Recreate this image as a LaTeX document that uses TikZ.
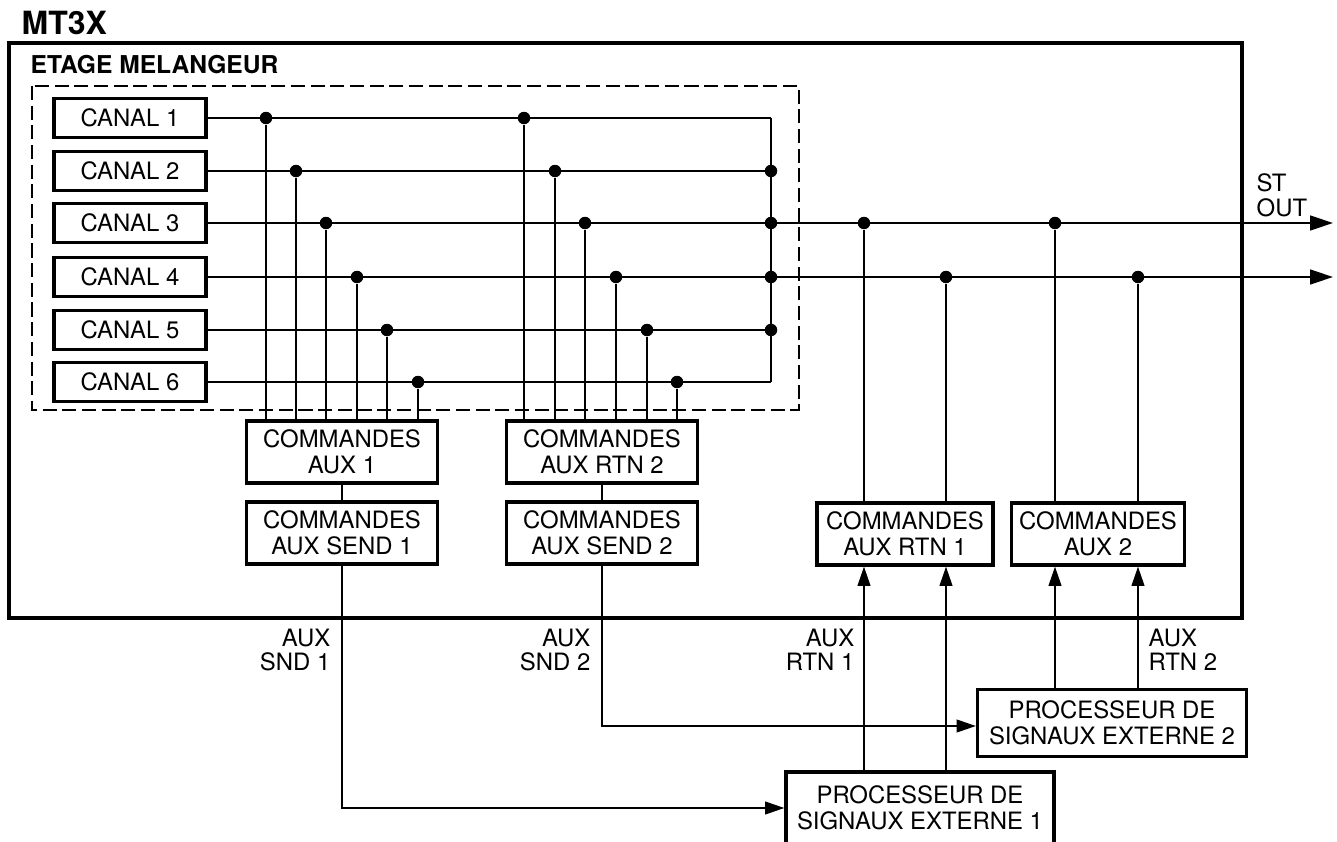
\documentclass[tikz,border=0pt]{standalone}
\usepackage{fontspec}
\setmainfont{TeX Gyre Heros}
\usetikzlibrary{arrows.meta,positioning}
\newcommand{\lbl}{\fontsize{6.8}{7.4}\selectfont}
\newcommand{\sidelbl}{\fontsize{6.8}{7.0}\selectfont}
\newcommand{\ttl}{\fontsize{9.1}{10}\selectfont\bfseries}
\newcommand{\sect}{\fontsize{7.0}{8}\selectfont\bfseries}
\tikzset{
  chanbox/.style={
    rectangle, draw, line width=0.9pt, inner sep=0pt,
    minimum width=15.2mm, minimum height=3.9mm, font=\lbl
  },
  cmdbox/.style={
    rectangle, draw, line width=0.9pt, inner sep=0pt, align=center,
    minimum width=19.1mm, minimum height=6.2mm, font=\lbl
  },
  junction/.style={circle, fill, inner sep=0pt, minimum size=1.25mm},
  wire/.style={line width=0.6pt},
  sigarrow/.style={wire, -{Triangle[length=5.5pt,width=3.6pt]}},
  outarrow/.style={wire, -{Triangle[length=6.5pt,width=4.2pt]}},
  portlabel/.style={inner sep=0pt, font=\sidelbl},
}

\begin{document}
\begin{tikzpicture}[x=0.1mm, y=-0.1mm]
  \useasboundingbox (0,0) rectangle (1337,842);

  \node[anchor=west, inner sep=0pt, font=\ttl] (mt) at (21,23) {MT3X};
  \draw[line width=1.1pt] (9,43) rectangle (1242,618);
  \node[anchor=west, inner sep=0pt, font=\sect] (etage) at (30,65) {ETAGE MELANGEUR};
  \draw[wire, dash pattern=on 4pt off 1.6pt] (32,86) rectangle (799,410);

  % control sections
  \node[cmdbox] (aux1) at (342,452) {COMMANDES\\AUX 1};
  \node[cmdbox] (snd1) at (342,533) {COMMANDES\\AUX SEND 1};
  \node[cmdbox] (rtn2) at (602,452) {COMMANDES\\AUX RTN 2};
  \node[cmdbox] (snd2) at (602,533) {COMMANDES\\AUX SEND 2};
  \node[cmdbox, minimum width=17.6mm] (rtn1) at (905,534) {COMMANDES\\AUX RTN 1};
  \node[cmdbox, minimum width=17.3mm] (aux2) at (1098,534) {COMMANDES\\AUX 2};

  % external processors
  \node[cmdbox, minimum width=26.9mm, minimum height=6.7mm] (proc2) at (1112,723) {PROCESSEUR DE\\SIGNAUX EXTERNE 2};
  \node[cmdbox, minimum width=26.8mm, minimum height=7.2mm] (proc1) at (920,808) {PROCESSEUR DE\\SIGNAUX EXTERNE 1};

  % channels and their taps
  \foreach \k/\y/\xa/\xb in {1/118/266/524, 2/171/296/555, 3/223/326/585,
                             4/277/357/616, 5/330/387/647, 6/382/418/677} {
    \node[chanbox] (c\k) at (130,\y) {CANAL \k};
    \coordinate (b\k) at (771,\y);
    \draw[wire] (c\k.east) -- (b\k);
    \node[junction] (ta\k) at (\xa,\y) {};
    \node[junction] (tr\k) at (\xb,\y) {};
    \draw[wire] (ta\k) -- (ta\k |- aux1.north);
    \draw[wire] (tr\k) -- (tr\k |- rtn2.north);
  }
  \draw[wire] (b1) -- (b6);
  \foreach \k in {2,...,5}
    \node[junction] (bd\k) at (b\k) {};

  % stereo out
  \coordinate (stl) at (1333,223);
  \coordinate (str) at (1333,277);
  \draw[outarrow] (b3) -- (stl);
  \draw[outarrow] (b4) -- (str);
  \node[portlabel, anchor=north west, align=left] (stout) at (1256,173) {ST\\OUT};

  % returns
  \node[junction] (ra) at (864,223) {};
  \node[junction] (rb) at (946,277) {};
  \node[junction] (xa) at (1055,223) {};
  \node[junction] (xb) at (1138,277) {};
  \draw[wire] (ra) -- (ra |- rtn1.north);
  \draw[wire] (rb) -- (rb |- rtn1.north);
  \draw[wire] (xa) -- (xa |- aux2.north);
  \draw[wire] (xb) -- (xb |- aux2.north);
  \draw[sigarrow] (ra |- proc1.north) -- (ra |- rtn1.south);
  \draw[sigarrow] (rb |- proc1.north) -- (rb |- rtn1.south);
  \draw[sigarrow] (xa |- proc2.north) -- (xa |- aux2.south);
  \draw[sigarrow] (xb |- proc2.north) -- (xb |- aux2.south);

  % sends
  \draw[wire] (aux1) -- (snd1);
  \draw[wire] (rtn2) -- (snd2);
  \draw[sigarrow] (snd1.south) |- (proc1.west);
  \draw[sigarrow] (snd2.south) |- ([yshift=-0.3mm]proc2.west);

  \node[portlabel, anchor=north east, align=right] (lsnd1) at (331,628) {AUX\\SND 1};
  \node[portlabel, anchor=north east, align=right] (lsnd2) at (591,628) {AUX\\SND 2};
  \node[portlabel, anchor=north east, align=right] (lrtn1) at (855,628) {AUX\\RTN 1};
  \node[portlabel, anchor=north west, align=left] (lrtn2) at (1148,628) {AUX\\RTN 2};
\end{tikzpicture}
\end{document}
